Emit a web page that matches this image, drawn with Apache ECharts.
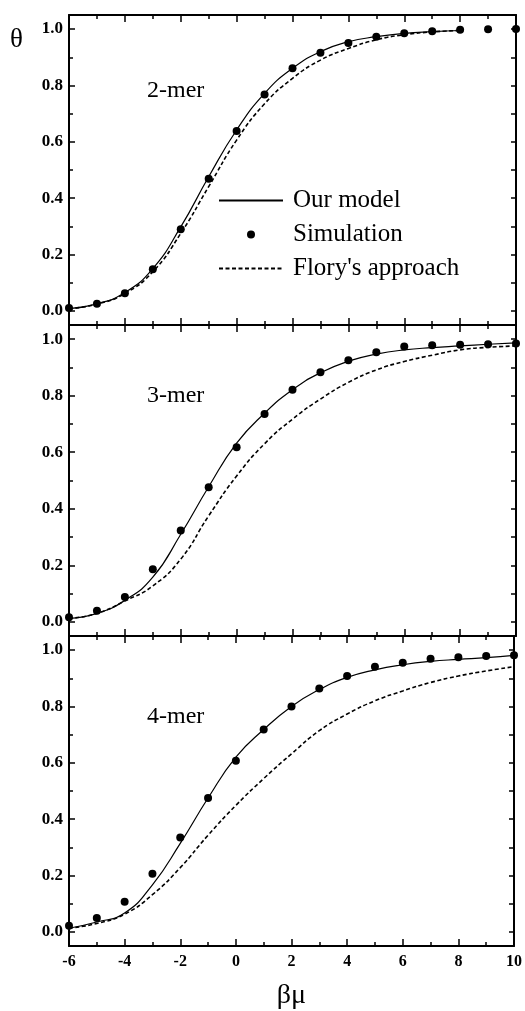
<!DOCTYPE html>
<html><head><meta charset="utf-8">
<script src="https://cdn.jsdelivr.net/npm/echarts@6/dist/echarts.min.js"></script>
<style>html,body{margin:0;padding:0;background:#fff}#c{width:525px;height:1011px}</style>
</head><body><div id="c"></div>
<script>
// ---- data ----
const xSim = [-6,-5,-4,-3,-2,-1,0,1,2,3,4,5,6,7,8,9,10];
const xModel2 = [-6,-5,-4,-3,-2,-1,0,1,2,3,4,5,6,7,8];
const xModel = [-6,-5,-4,-3,-2,-1,0,1,2,3,4,5,6,7,8,9,10];

const sim2 = [0.010,0.025,0.063,0.148,0.290,0.469,0.638,0.768,0.861,0.916,0.951,0.973,0.985,0.992,0.998,0.999,1.000];
const model2 = [0.008,0.025,0.065,0.150,0.298,0.476,0.642,0.772,0.861,0.920,0.955,0.973,0.985,0.991,0.995];
const flory2 = [0.008,0.024,0.062,0.139,0.275,0.441,0.606,0.735,0.825,0.890,0.931,0.962,0.980,0.990,0.995];

const sim3 = [0.016,0.039,0.088,0.186,0.323,0.476,0.618,0.735,0.821,0.883,0.925,0.954,0.974,0.978,0.980,0.982,0.985];
const model3 = [0.012,0.030,0.076,0.158,0.310,0.478,0.632,0.738,0.821,0.881,0.922,0.947,0.962,0.970,0.976,0.982,0.987];
const flory3 = [0.012,0.030,0.074,0.127,0.222,0.375,0.516,0.630,0.717,0.788,0.847,0.891,0.921,0.943,0.962,0.971,0.976];

const sim4 = [0.022,0.049,0.107,0.206,0.335,0.475,0.607,0.718,0.800,0.864,0.908,0.941,0.955,0.969,0.975,0.979,0.982];
const model4 = [0.013,0.035,0.067,0.167,0.314,0.475,0.620,0.718,0.800,0.860,0.903,0.930,0.948,0.960,0.967,0.973,0.981];
const flory4 = [0.013,0.030,0.063,0.132,0.228,0.343,0.449,0.544,0.632,0.714,0.773,0.820,0.855,0.885,0.908,0.926,0.941];

const yMajorTicks = [0,0.2,0.4,0.6,0.8,1.0];
const yMinorTicks = [0.1,0.3,0.5,0.7,0.9];
const yAllTicks = [0,0.1,0.2,0.3,0.4,0.5,0.6,0.7,0.8,0.9,1.0];
const panelLabels = ['2-mer','3-mer','4-mer'];
const seriesNames = ['Our model','Simulation',"Flory's approach"];

// ---- chart ----
const FONT = 'Liberation Serif';
const BLACK = '#000';
const panels = [
  {sim: sim2, model: model2, flory: flory2, xm: xModel2},
  {sim: sim3, model: model3, flory: flory3, xm: xModel},
  {sim: sim4, model: model4, flory: flory4, xm: xModel}
];
const gridLayout = [{top:15,height:310},{top:325,height:311},{top:636,height:311}];
const labelTops = [79, 384, 705];

const zip = (xs, ys) => ys.map((y,i)=>[xs[i], y]);

const grid = [], xAxis = [], yAxis = [], series = [], title = [];
title.push({text:'θ', left:10, top:26, padding:0, textStyle:{fontFamily:FONT, fontSize:27, fontWeight:'normal', color:BLACK}});

panels.forEach((p, i) => {
  grid.push({left:69, right:9, top:gridLayout[i].top, height:gridLayout[i].height});
  const isLast = i === panels.length - 1;
  const lineStyle = {color:BLACK, width:2};
  xAxis.push({
    type:'value', gridIndex:i, position:'bottom', min:-6, max:10, interval:2,
    axisLine:{show:true, onZero:false, lineStyle},
    axisTick:{show:true, inside:true, length:7, lineStyle:{color:BLACK, width:1.5}},
    minorTick:{show:true, splitNumber:2, length:4, lineStyle:{color:BLACK, width:1.5}},
    splitLine:{show:false},
    axisLabel:{show:isLast, margin:8, color:BLACK, fontFamily:FONT, fontSize:16, fontWeight:'bold'},
    name: isLast ? 'βμ' : '', nameLocation:'middle', nameGap:36,
    nameTextStyle:{fontFamily:FONT, fontSize:28, color:BLACK}
  });
  xAxis.push({
    type:'value', gridIndex:i, position:'top', min:-6, max:10, interval:2,
    axisLine:{show:true, onZero:false, lineStyle},
    axisTick:{show:true, inside:true, length:7, lineStyle:{color:BLACK, width:1.5}},
    minorTick:{show:true, splitNumber:2, length:4, lineStyle:{color:BLACK, width:1.5}},
    splitLine:{show:false}, axisLabel:{show:false}
  });
  yAxis.push({
    type:'value', gridIndex:i, position:'left', min:-0.05, max:1.05,
    axisLine:{show:true, onZero:false, lineStyle},
    axisTick:{show:true, inside:true, length:6, customValues:yMajorTicks, lineStyle:{color:BLACK, width:1.5}},
    splitLine:{show:false},
    axisLabel:{show:true, margin:6, customValues:yMajorTicks, formatter:v=>v.toFixed(1),
      color:BLACK, fontFamily:FONT, fontSize:17, fontWeight:'bold'}
  });
  yAxis.push({
    type:'value', gridIndex:i, position:'left', min:-0.05, max:1.05,
    axisLine:{show:false, onZero:false},
    axisTick:{show:true, inside:true, length:4, customValues:yMinorTicks, lineStyle:{color:BLACK, width:1.5}},
    splitLine:{show:false}, axisLabel:{show:false}
  });
  yAxis.push({
    type:'value', gridIndex:i, position:'right', min:-0.05, max:1.05,
    axisLine:{show:true, onZero:false, lineStyle},
    axisTick:{show:true, inside:true, length:5, customValues:yAllTicks, lineStyle:{color:BLACK, width:1.5}},
    splitLine:{show:false}, axisLabel:{show:false}
  });
  title.push({text:panelLabels[i], left:147, top:labelTops[i], padding:0,
    textStyle:{fontFamily:FONT, fontSize:24, fontWeight:'normal', color:BLACK}});

  series.push({
    name:seriesNames[0], type:'line', xAxisIndex:2*i, yAxisIndex:3*i,
    data:zip(p.xm, p.model), smooth:true, symbol:'none',
    lineStyle:{color:BLACK, width:1.2}, itemStyle:{color:BLACK}, z:3
  });
  series.push({
    name:seriesNames[2], type:'line', xAxisIndex:2*i, yAxisIndex:3*i,
    data:zip(p.xm, p.flory), smooth:true, symbol:'none',
    lineStyle:{color:BLACK, width:1.6, type:[4,2.5]}, itemStyle:{color:BLACK}, z:3
  });
  series.push({
    name:seriesNames[1], type:'scatter', xAxisIndex:2*i, yAxisIndex:3*i,
    data:zip(xSim, p.sim), symbol:'circle', symbolSize:8,
    itemStyle:{color:BLACK, opacity:1}, z:4
  });
});

const hidden = {color:'rgba(0,0,0,0)', borderColor:'rgba(0,0,0,0)', borderWidth:0};
const chart = echarts.init(document.getElementById('c'), null, {renderer:'canvas'});
chart.setOption({
  animation:false,
  backgroundColor:'#fff',
  title,
  legend:{
    data:[
      {name:seriesNames[0], itemStyle:hidden},
      {name:seriesNames[1]},
      {name:seriesNames[2], itemStyle:hidden}
    ],
    orient:'vertical', left:218, top:188, padding:0,
    itemWidth:64, itemHeight:8, itemGap:9, selectedMode:false,
    textStyle:{fontFamily:FONT, fontSize:25, color:BLACK, padding:[0,0,0,5]}
  },
  grid, xAxis, yAxis, series
});
</script>
</body></html>
